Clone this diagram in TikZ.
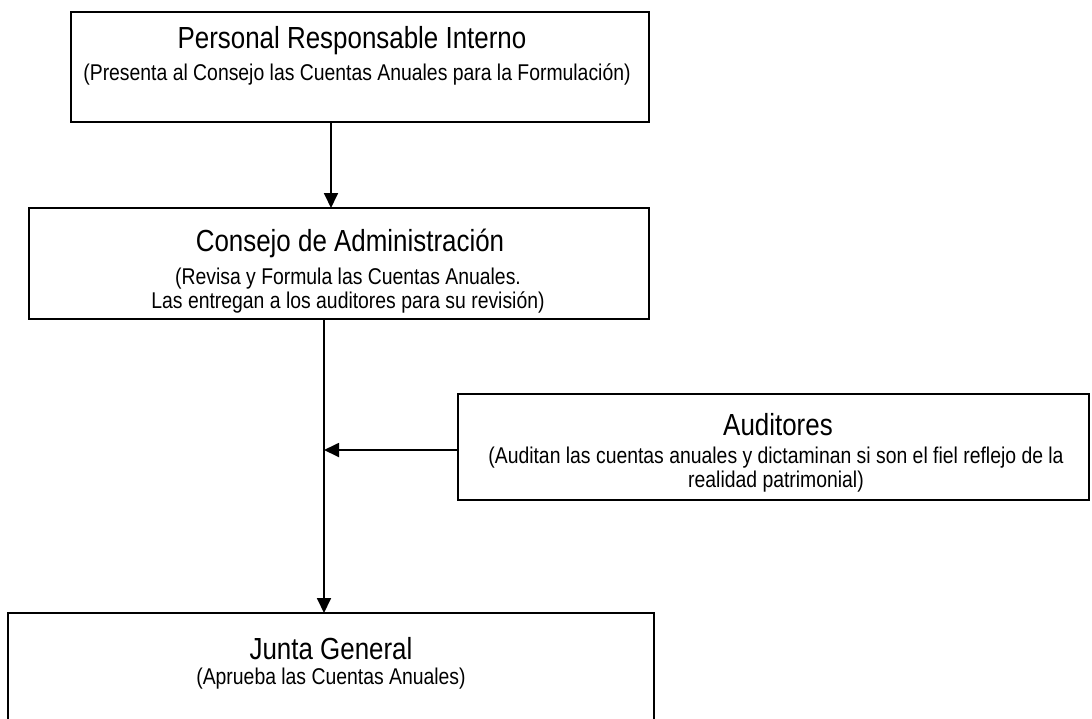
\documentclass[tikz,border=0pt]{standalone}
\usepackage{fontspec}
\setmainfont{Liberation Sans}[FakeStretch=0.85]
\usetikzlibrary{arrows.meta}
\begin{document}
\begin{tikzpicture}[x=1pt,y=-1pt,
  box/.style={draw=black,line width=2pt,fill=white},
  ttl/.style={font=\fontsize{30.5}{34}\selectfont,inner sep=0pt,anchor=center},
  sub/.style={font=\fontsize{22.8}{24}\selectfont,inner sep=0pt,anchor=center,align=center},
  arr/.style={line width=1.8pt,-{Triangle[width=14pt,length=15pt]}}]
\clip (0,0) rectangle (1092,718);
\fill[white] (0,0) rectangle (1092,718);
% boxes
\draw[box] (71,12) rectangle (649,122);
\draw[box] (29,208) rectangle (649,319);
\draw[box] (458,394) rectangle (1089,500);
\draw[box] (8,613) rectangle (654,740);
\coordinate (b1bot) at (331,122);
\coordinate (b2top) at (331,208);
\coordinate (b2bot) at (324,319);
\coordinate (b4top) at (324,613);
\coordinate (b3left) at (458,450);
\coordinate (join) at (324,450);
% texts
\node[ttl] (t1) at (352,41) {Personal Responsable Interno};
\node[sub] (s1) at (357,74) {(Presenta al Consejo las Cuentas Anuales para la Formulación)};
\node[ttl] (t2) at (350,243) {Consejo de Administración};
\node[sub] (s2) at (348,291) {(Revisa y Formula las Cuentas Anuales.\\Las entregan a los auditores para su revisión)};
\node[ttl] (t3) at (778,425) {Auditores};
\node[sub] (s3) at (776,470) {(Auditan las cuentas anuales y dictaminan si son el fiel reflejo de la\\realidad patrimonial)};
\node[ttl] (t4) at (331,649) {Junta General};
\node[sub] (s4) at (331,679) {(Aprueba las Cuentas Anuales)};
% connectors
\draw[arr] (b1bot) -- (b2top);
\draw[arr] (b2bot) -- (b4top);
\draw[arr] (b3left) -- (join);
\end{tikzpicture}
\end{document}
